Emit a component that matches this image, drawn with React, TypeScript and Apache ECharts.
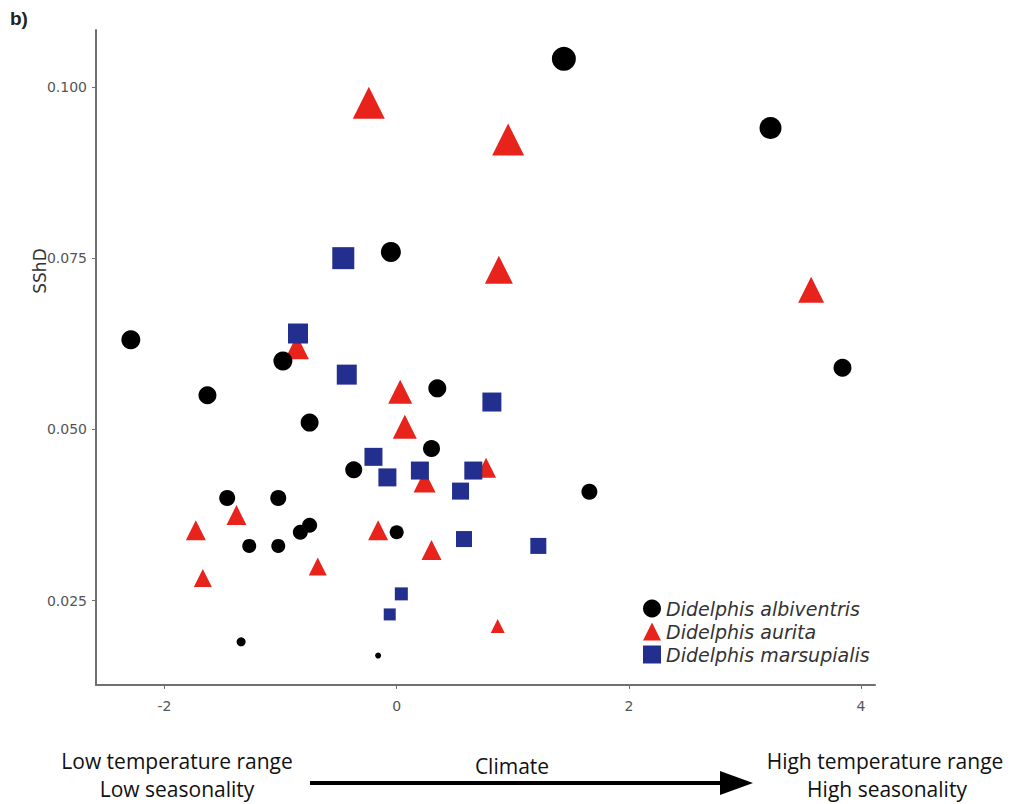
import React, { useEffect, useRef } from "react";
import * as echarts from "echarts";

// [climate PC, SShD, marker size]
const albiventris: number[][] = [
  [1.44, 0.1041, 24],
  [3.22, 0.094, 22],
  [-0.05, 0.0759, 20],
  [-2.29, 0.0631, 19],
  [-0.98, 0.06, 19],
  [-1.63, 0.055, 18],
  [-0.75, 0.051, 18],
  [0.35, 0.056, 18],
  [3.84, 0.059, 18],
  [-0.37, 0.0441, 17],
  [0.3, 0.0472, 17],
  [-1.46, 0.04, 16],
  [-1.02, 0.04, 16],
  [-0.75, 0.036, 15],
  [-0.83, 0.035, 15],
  [-1.27, 0.033, 14],
  [-1.02, 0.033, 14],
  [0.0, 0.035, 14],
  [1.66, 0.0409, 16],
  [-1.34, 0.019, 9],
  [-0.16, 0.017, 6],
];

const aurita: number[][] = [
  [-0.24, 0.0977, 32],
  [0.96, 0.0923, 32],
  [0.88, 0.0733, 28],
  [3.57, 0.0704, 26],
  [-0.86, 0.062, 24],
  [0.03, 0.0555, 24],
  [0.07, 0.0504, 24],
  [0.77, 0.0444, 20],
  [0.24, 0.0424, 22],
  [-0.16, 0.0353, 20],
  [0.3, 0.0324, 20],
  [0.87, 0.0213, 14],
  [-1.73, 0.0353, 20],
  [-1.38, 0.0375, 20],
  [-1.67, 0.0283, 18],
  [-0.68, 0.03, 18],
];

const marsupialis: number[][] = [
  [-0.46, 0.075, 22],
  [-0.85, 0.064, 20],
  [-0.43, 0.058, 20],
  [0.82, 0.054, 19],
  [-0.2, 0.046, 18],
  [-0.08, 0.043, 18],
  [0.2, 0.044, 18],
  [0.66, 0.044, 18],
  [0.55, 0.041, 17],
  [0.58, 0.034, 16],
  [1.22, 0.033, 16],
  [0.04, 0.026, 13],
  [-0.06, 0.023, 12],
];

const xTicks = [-2, 0, 2, 4];
const yTicks = [0.025, 0.05, 0.075, 0.1];

const speciesNames = ["Didelphis albiventris", "Didelphis aurita", "Didelphis marsupialis"];
const speciesColors = ["#000000", "#e8231c", "#232f8e"];
const speciesIcons = ["circle", "triangle", "rect"];

export default function App() {
  const ref = useRef<HTMLDivElement>(null);
  useEffect(() => {
    document.body.style.margin = "0";
    if (!ref.current) return;
    const chart = echarts.init(ref.current, null, { renderer: "svg" });
    const axisLabelStyle = {
      color: "#555",
      fontSize: 14,
      fontFamily: "DejaVu Sans",
    };
    const mk = (idx: number, data: number[][], z: number) => ({
      type: "scatter",
      name: speciesNames[idx],
      symbol: speciesIcons[idx],
      data,
      symbolSize: (v: number[]) => v[2],
      itemStyle: { color: speciesColors[idx], opacity: 1 },
      z,
    });
    chart.setOption({
      animation: false,
      backgroundColor: "#ffffff",
      grid: {
        left: 96,
        right: 140,
        top: 30,
        bottom: 119,
        containLabel: false,
        outerBoundsMode: "none",
      },
      xAxis: {
        type: "value",
        min: -2.59,
        max: 4.12,
        splitLine: { show: false },
        axisLine: { show: true, onZero: false, lineStyle: { color: "#707070", width: 2 } },
        axisTick: { show: true, length: 4, customValues: xTicks, lineStyle: { color: "#707070" } },
        axisLabel: { ...axisLabelStyle, margin: 14, customValues: xTicks },
      },
      yAxis: {
        type: "value",
        min: 0.0127,
        max: 0.1083,
        splitLine: { show: false },
        axisLine: { show: true, onZero: false, lineStyle: { color: "#707070", width: 2 } },
        axisTick: { show: true, length: 4, customValues: yTicks, lineStyle: { color: "#707070" } },
        axisLabel: {
          ...axisLabelStyle,
          margin: 9,
          customValues: yTicks,
          formatter: (v: number) => v.toFixed(3),
        },
      },
      legend: {
        orient: "vertical",
        left: 638,
        top: 594,
        itemWidth: 18,
        itemHeight: 18,
        itemGap: 4,
        textStyle: {
          fontStyle: "italic",
          fontSize: 19,
          color: "#333",
          fontFamily: "DejaVu Sans",
        },
        data: speciesNames.map((n, i) => ({ name: n, icon: speciesIcons[i] })),
      },
      series: [mk(1, aurita, 2), mk(0, albiventris, 3), mk(2, marsupialis, 4)],
      graphic: [
        {
          type: "text",
          left: 10,
          top: 9,
          style: { text: "b)", font: "bold 19px 'Liberation Sans'", fill: "#222" },
        },
        {
          type: "text",
          x: 40,
          y: 271,
          rotation: Math.PI / 2,
          style: {
            text: "SShD",
            font: "17px 'DejaVu Sans'",
            fill: "#333",
            align: "center",
            verticalAlign: "middle",
          },
        },
        {
          type: "text",
          x: 177,
          y: 761,
          style: { text: "Low temperature range", font: "21px 'Open Sans'", fill: "#111", align: "center", verticalAlign: "middle" },
        },
        {
          type: "text",
          x: 177,
          y: 789,
          style: { text: "Low seasonality", font: "21px 'Open Sans'", fill: "#111", align: "center", verticalAlign: "middle" },
        },
        {
          type: "text",
          x: 512,
          y: 766,
          style: { text: "Climate", font: "21px 'Open Sans'", fill: "#111", align: "center", verticalAlign: "middle" },
        },
        {
          type: "text",
          x: 885,
          y: 761,
          style: { text: "High temperature range", font: "21px 'Open Sans'", fill: "#111", align: "center", verticalAlign: "middle" },
        },
        {
          type: "text",
          x: 887,
          y: 789,
          style: { text: "High seasonality", font: "21px 'Open Sans'", fill: "#111", align: "center", verticalAlign: "middle" },
        },
        {
          type: "line",
          shape: { x1: 310, y1: 783, x2: 728, y2: 783 },
          style: { stroke: "#000", lineWidth: 4 },
        },
        {
          type: "polygon",
          shape: { points: [[720, 771], [753, 783], [720, 795]] },
          style: { fill: "#000" },
        },
      ],
    });
    return () => chart.dispose();
  }, []);
  return <div ref={ref} style={{ width: 1015, height: 804 }} />;
}
